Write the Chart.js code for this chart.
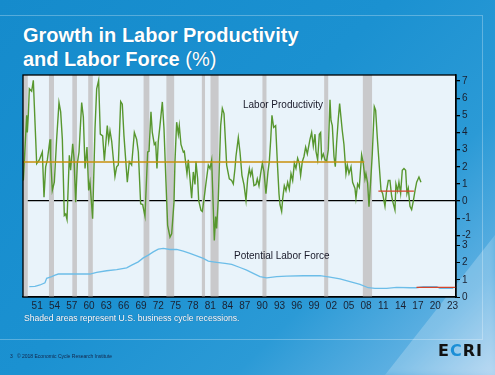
<!DOCTYPE html>
<html><head><meta charset="utf-8">
<script src="https://cdn.jsdelivr.net/npm/chart.js@4"></script>
<style>
html,body{margin:0;padding:0;}
body{width:495px;height:375px;overflow:hidden;position:relative;font-family:"Liberation Sans",Arial,sans-serif;
background:linear-gradient(135deg,#158bcc 0%,#1b91d1 45%,#2b9ad6 70%,#5eb0e2 88%,#a9d0ef 100%);}
#wedge{position:absolute;left:0;top:0;width:495px;height:375px;background:rgba(255,255,255,0.22);clip-path:polygon(385px 375px,495px 235px,495px 375px);filter:blur(3px);}
#frame{position:absolute;left:-2px;top:15px;width:484px;height:323px;border:1px solid rgba(255,255,255,0.28);border-left:none;}
#title{position:absolute;left:23px;top:23px;color:#fff;font-weight:bold;font-size:20px;line-height:24px;text-shadow:0 0 1px rgba(0,40,80,0.4);}
#title span{font-weight:normal;}
#note{position:absolute;left:24px;top:313px;color:#fff;font-size:8.6px;line-height:10px;text-shadow:0 0 1px rgba(0,40,80,0.6);}
#foot{position:absolute;left:10px;top:353px;color:#13264a;font-size:5px;line-height:6px;}
#logo{position:absolute;left:438px;top:342px;font-family:"DejaVu Sans",sans-serif;font-weight:bold;font-size:16px;line-height:18px;letter-spacing:1px;color:#111;}
#logo b{color:#1b8fd6;}
.ann{position:absolute;color:#1a1a2a;font-size:10px;line-height:12px;white-space:nowrap;}
canvas{position:absolute;left:0;top:0;}
</style></head>
<body>
<div id="wedge"></div>
<div id="frame"></div>
<div id="title">Growth in Labor Productivity<br>and Labor Force <span>(%)</span></div>
<canvas id="c" width="495" height="375"></canvas>
<div class="ann" style="left:243px;top:99px;">Labor Productivity</div>
<div class="ann" style="left:234px;top:250px;">Potential Labor Force</div>
<div id="note">Shaded areas represent U.S. business cycle recessions.</div>
<div id="foot">3&nbsp;&nbsp;&nbsp;© 2018 Economic Cycle Research Institute</div>
<div id="logo">E<b>C</b>RI</div>
<script>
// ---- data ----
const xTickYears = [1951,1954,1957,1960,1963,1966,1969,1972,1975,1978,1981,1984,1987,1990,1993,1996,1999,2002,2005,2008,2011,2014,2017,2020,2023];
const xTickLabels = ['51','54','57','60','63','66','69','72','75','78','81','84','87','90','93','96','99','02','05','08','11','14','17','20','23'];
const prodTicks = [-2,-1,0,1,2,3,4,5,6,7];
const laborTicks = [0,1,2,3];
const recessionStart = [1948.9,1953.5,1957.55,1960.3,1969.9,1973.85,1980.0,1981.5,1990.5,2001.2,2007.9];
const recessionEnd   = [1949.83,1954.37,1958.35,1961.1,1970.9,1975.2,1980.55,1982.9,1991.2,2001.9,2009.5];
const prodYears = [1949.06,1949.64,1949.75,1949.92,1950.10,1950.50,1950.79,1950.96,1951.20,1951.37,1951.83,1952.35,1952.64,1952.93,1953.22,1953.68,1953.80,1954.08,1954.43,1954.83,1955.24,1955.53,1955.82,1956.16,1956.40,1956.63,1957.03,1957.26,1957.61,1957.84,1958.13,1958.42,1958.71,1959.17,1959.46,1959.75,1960.09,1960.38,1960.61,1961.07,1961.48,1961.77,1962.11,1962.40,1962.81,1963.10,1963.61,1963.85,1964.08,1964.37,1964.94,1965.23,1965.52,1965.93,1966.21,1966.50,1967.08,1967.43,1967.83,1968.30,1968.70,1968.99,1969.39,1969.74,1970.14,1970.61,1970.84,1971.18,1971.41,1971.76,1971.99,1972.22,1972.45,1972.74,1973.15,1973.44,1973.78,1974.07,1974.48,1974.77,1975.17,1975.34,1975.63,1975.92,1976.09,1976.38,1976.79,1976.96,1977.42,1977.65,1977.94,1978.23,1978.52,1978.81,1978.98,1979.27,1979.45,1979.85,1980.08,1980.37,1980.66,1981.12,1981.41,1981.70,1981.99,1982.16,1982.39,1982.56,1982.85,1983.26,1983.55,1983.84,1984.30,1984.76,1985.16,1985.45,1985.74,1985.91,1986.32,1986.61,1986.95,1987.30,1987.65,1987.94,1988.23,1988.45,1988.69,1989.03,1989.38,1989.61,1989.90,1990.19,1990.48,1990.77,1991.11,1991.46,1991.69,1991.92,1992.15,1992.44,1992.79,1993.08,1993.37,1993.54,1993.83,1994.00,1994.29,1994.58,1994.87,1995.16,1995.45,1995.74,1996.03,1996.31,1996.60,1996.89,1997.12,1997.41,1997.70,1997.99,1998.28,1998.74,1999.03,1999.32,1999.61,1999.78,2000.07,2000.36,2000.59,2000.76,2001.05,2001.34,2001.63,2001.92,2002.21,2002.38,2002.61,2002.90,2003.13,2003.36,2003.65,2003.88,2004.34,2004.63,2004.98,2005.21,2005.50,2005.85,2006.13,2006.54,2006.71,2007.00,2007.29,2007.69,2007.98,2008.27,2008.44,2008.73,2008.97,2009.25,2009.54,2009.89,2010.12,2010.41,2010.76,2011.05,2011.33,2011.74,2012.03,2012.32,2012.60,2012.89,2013.07,2013.47,2013.64,2013.93,2014.16,2014.45,2014.74,2015.03,2015.32,2015.55,2015.78,2016.07,2016.36,2016.65,2016.94,2017.23,2017.63,2017.98];
const prodValues = [1.2,5.0,4.0,5.0,6.55,6.4,7.04,5.6,3.6,2.18,2.4,2.86,0.23,2.0,2.4,3.6,2.5,0.62,1.1,3.6,5.74,5.2,3.6,-0.84,-0.75,-1.07,2.67,1.8,3.34,2.5,-0.06,2.2,2.86,5.74,4.9,1.9,3.15,0.62,1.1,-1.03,4.2,6.55,7.04,3.9,3.8,2.35,4.4,3.5,4.1,3.5,1.44,2.0,2.1,5.8,5.65,3.8,1.1,2.3,2.1,4.0,3.6,2.86,-0.15,-0.2,-0.88,2.86,2.9,5.2,4.0,3.3,3.4,1.9,3.5,4.4,5.78,4.2,1.1,-1.42,-2.1,-1.9,-0.06,2.3,4.6,3.9,4.4,3.3,2.86,2.9,1.6,2.4,1.3,0.17,1.7,0.97,2.3,1.3,0.04,-0.54,-0.6,0.1,0.9,2.1,1.9,2.4,-0.5,-2.3,-0.9,-1.6,0.14,4.4,5.4,5.1,2.1,1.3,1.2,1.0,1.9,2.6,3.7,2.86,1.5,0.96,0.04,1.3,1.9,1.5,1.8,0.9,0.97,1.3,0.9,1.6,2.2,1.7,0.43,1.7,2.3,3.5,5.0,4.3,4.4,2.3,0.43,-0.2,-0.6,0.1,0.9,0.6,1.1,0.7,1.6,1.2,2.2,1.9,2.5,2.2,1.5,2.3,2.6,3.15,2.75,3.6,4.0,3.2,3.9,2.9,2.4,3.9,4.0,2.5,2.75,2.4,2.35,3.0,5.9,4.7,4.4,2.6,2.0,3.4,4.8,5.68,4.1,3.3,1.6,2.1,1.6,2.0,1.1,0.74,0.17,1.0,0.8,2.7,2.2,1.3,1.6,1.05,-0.33,1.1,2.75,5.5,5.3,3.7,2.0,0.64,0.45,-0.3,0.64,1.2,1.2,0.3,0.0,-0.52,1.0,0.6,1.1,0.45,1.8,1.9,1.8,0.45,0.75,-0.3,-0.5,0.0,0.6,1.1,1.4,1.1];
const laborYears = [1950.09,1951.08,1951.95,1952.81,1953.10,1953.97,1954.55,1955.12,1960.61,1961.77,1963.50,1965.24,1966.97,1967.84,1968.98,1969.85,1970.72,1971.58,1972.45,1973.32,1974.48,1975.64,1976.78,1977.94,1979.10,1980.25,1981.12,1982.57,1984.01,1985.17,1986.61,1987.77,1988.91,1990.07,1991.24,1992.97,1994.70,1997.58,2000.47,2002.20,2003.94,2005.67,2007.41,2008.84,2010.00,2012.03,2013.76,2016.07,2017.23,2018.38,2020.70,2021.27,2023.58];
const laborValues = [0.6,0.62,0.7,0.83,1.09,1.19,1.28,1.34,1.34,1.44,1.53,1.6,1.7,1.86,2.05,2.28,2.44,2.63,2.79,2.83,2.77,2.77,2.67,2.54,2.4,2.25,2.09,2.02,1.96,1.9,1.72,1.57,1.38,1.19,1.12,1.19,1.22,1.24,1.24,1.16,1.05,0.89,0.74,0.54,0.5,0.5,0.56,0.54,0.54,0.6,0.6,0.5,0.5];
const prodAvgOld = {from:1949, to:2008.15, value:2.28};
const prodAvgNew = {from:2010.6, to:2016.75, value:0.58};
const laborAvgNew = {from:2017.2, to:2024.05, value:0.56};

const pts = (xs, ys) => xs.map((x, i) => ({x, y: ys[i]}));
const seg = a => [{x:a.from, y:a.value},{x:a.to, y:a.value}];

const bgPlugin = {
  id:'bg',
  beforeDraw(chart){
    const {ctx, chartArea:a} = chart;
    ctx.save();
    ctx.fillStyle = '#e9f3fa';
    ctx.fillRect(a.left, a.top, a.right-a.left, a.bottom-a.top);
    ctx.restore();
  },
  beforeDatasetsDraw(chart){
    const {ctx, chartArea:a, scales:{x}} = chart;
    ctx.save();
    ctx.beginPath(); ctx.rect(a.left, a.top, a.right-a.left, a.bottom-a.top); ctx.clip();
    ctx.fillStyle = '#c9c9cb';
    recessionStart.forEach((s, i) => {
      const x0 = x.getPixelForValue(s), x1 = x.getPixelForValue(recessionEnd[i]);
      ctx.fillRect(x0, a.top, x1-x0, a.bottom-a.top);
    });
    ctx.restore();
  },
  afterDatasetsDraw(chart){
    const {ctx, chartArea:a} = chart;
    ctx.save();
    ctx.strokeStyle = '#000'; ctx.lineWidth = 1.3;
    ctx.strokeRect(a.left, a.top, a.right-a.left, a.bottom-a.top);
    ctx.restore();
  }
};

const tickFont = {family:'"Liberation Sans", Arial, sans-serif', size:10};

new Chart(document.getElementById('c'), {
  type:'line',
  data:{datasets:[
    {label:'avgOld', data:seg(prodAvgOld), yAxisID:'yP', borderColor:'#c8900c', borderWidth:1.3, pointRadius:0},
    {label:'avgNew', data:seg(prodAvgNew), yAxisID:'yP', borderColor:'#d6452b', borderWidth:1.3, pointRadius:0},
    {label:'Labor Productivity', data:pts(prodYears, prodValues), yAxisID:'yP', borderColor:'#58972f', borderWidth:1.4, pointRadius:0, clip:false},
    {label:'laborAvg', data:seg(laborAvgNew), yAxisID:'yL', borderColor:'#d6452b', borderWidth:1.3, pointRadius:0},
    {label:'Potential Labor Force', data:pts(laborYears, laborValues), yAxisID:'yL', borderColor:'#6cbde8', borderWidth:1.3, pointRadius:0}
  ]},
  options:{
    responsive:false, animation:false, events:[],
    layout:{padding:{left:23, top:75, right:17, bottom:56}},
    plugins:{legend:{display:false}, tooltip:{enabled:false}},
    scales:{
      x:{type:'linear', min:1949, max:2024.05,
        afterBuildTicks(s){ s.ticks = xTickYears.map(v => ({value:v+0.45})); },
        afterFit(s){ s.height = 22; },
        grid:{display:false, drawTicks:false},
        border:{display:true, color:'#000', width:1.3},
        ticks:{autoSkip:false, maxRotation:0, padding:3, color:'#1a2030', font:tickFont,
          callback:(v, i) => xTickLabels[i]}
      },
      yP:{type:'linear', position:'right', stack:'r', stackWeight:9.55, min:-2.2, max:7.35,
        afterBuildTicks(s){ s.ticks = prodTicks.map(v => ({value:v})); },
        afterFit(s){ s.width = 22; },
        grid:{drawOnChartArea:true, drawTicks:true, tickLength:4, tickColor:'#000', lineWidth:1.3,
          color:c => (c.tick && c.tick.value === 0) ? '#000' : 'rgba(0,0,0,0)'},
        border:{display:true, color:'#000', width:1.3},
        ticks:{autoSkip:false, padding:2, color:'#1a2030', font:tickFont}
      },
      yL:{type:'linear', position:'right', stack:'r', stackWeight:3.39, min:0, max:3.39,
        afterBuildTicks(s){ s.ticks = laborTicks.map(v => ({value:v})); },
        afterFit(s){ s.width = 22; },
        grid:{drawOnChartArea:false, drawTicks:true, tickLength:4, tickColor:'#000'},
        border:{display:true, color:'#000', width:1.3},
        ticks:{autoSkip:false, padding:2, color:'#1a2030', font:tickFont}
      }
    }
  },
  plugins:[bgPlugin]
});
</script>
</body></html>
